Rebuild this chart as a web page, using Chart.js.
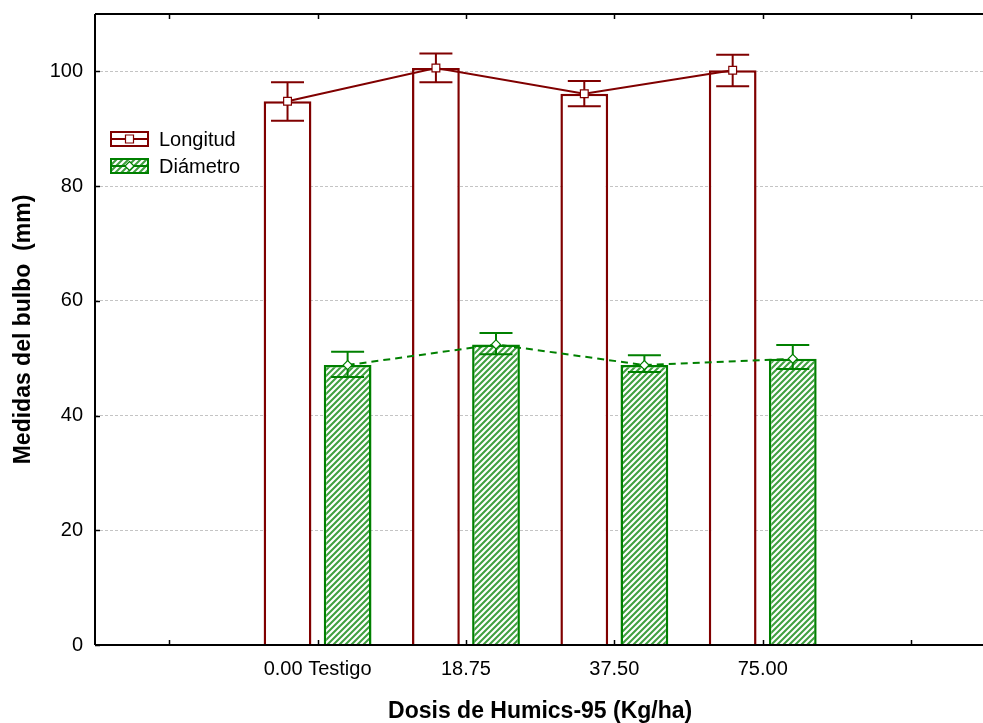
<!DOCTYPE html>
<html>
<head>
<meta charset="utf-8">
<script src="https://cdn.jsdelivr.net/npm/chart.js@4.4.1/dist/chart.umd.min.js"></script>
<style>
html, body { margin: 0; padding: 0; background: #fff; overflow: hidden; }
#wrap { width: 992px; height: 723px; }
</style>
</head>
<body>
<div id="wrap"><canvas id="grafico" width="992" height="723"></canvas></div>
<script>
// datos
const categorias = ['0.00 Testigo', '18.75', '37.50', '75.00'];
const longitud = [94.8, 100.6, 96.1, 100.2];
const longitudMin = [91.4, 98.1, 93.9, 97.4];
const longitudMax = [98.1, 103.1, 98.3, 102.9];
const diametro = [48.8, 52.4, 48.8, 49.9];
const diametroMin = [46.7, 50.7, 47.6, 48.1];
const diametroMax = [51.1, 54.4, 50.5, 52.3];
const yTicks = [0, 20, 40, 60, 80, 100];

const ROJO = '#800000';
const VERDE = '#008000';
const fuente = "'Liberation Sans', Arial, sans-serif";
const catPct = 0.81;
const barPct = 0.795;
const desplaz = catPct / 4; // centro de cada barra dentro de la categoria

var ctx = document.getElementById('grafico').getContext('2d');

// relleno rayado para Diametro
function rayado() {
    var c = document.createElement('canvas');
    c.width = 6; c.height = 6;
    var g = c.getContext('2d');
    g.fillStyle = '#fff';
    g.fillRect(0, 0, 6, 6);
    g.strokeStyle = '#40a040';
    g.lineWidth = 2.1;
    g.beginPath();
    g.moveTo(-1, 7); g.lineTo(7, -1);
    g.moveTo(-4, 4); g.lineTo(4, -4);
    g.moveTo(2, 10); g.lineTo(10, 2);
    g.stroke();
    return ctx.createPattern(c, 'repeat');
}
const patron = rayado();

function puntos(vals, dx) {
    return vals.map((v, i) => ({ x: i + 1 + dx, y: v }));
}

// barras de error, dibujadas justo despues de cada serie de barras
const barrasError = {
    id: 'barrasError',
    afterDatasetDraw(chart, args) {
        const ds = chart.data.datasets[args.index];
        if (!ds.errMin) return;
        const c = chart.ctx, y = chart.scales.y;
        c.save();
        c.strokeStyle = ds.borderColor;
        c.lineWidth = 2;
        args.meta.data.forEach((bar, i) => {
            const yl = y.getPixelForValue(ds.errMin[i]);
            const yh = y.getPixelForValue(ds.errMax[i]);
            c.beginPath();
            c.moveTo(bar.x, yl); c.lineTo(bar.x, yh);
            c.moveTo(bar.x - 16.5, yl); c.lineTo(bar.x + 16.5, yl);
            c.moveTo(bar.x - 16.5, yh); c.lineTo(bar.x + 16.5, yh);
            c.stroke();
        });
        c.restore();
    }
};

// marco y marcas de los ejes hacia adentro
const marco = {
    id: 'marco',
    afterDraw(chart) {
        const c = chart.ctx, a = chart.chartArea;
        const sx = chart.scales.x, sy = chart.scales.y;
        c.save();
        c.strokeStyle = '#000';
        c.lineWidth = 2;
        c.beginPath();
        c.moveTo(a.left, a.top); c.lineTo(a.right, a.top);
        c.moveTo(a.left, a.top); c.lineTo(a.left, a.bottom);
        c.moveTo(a.left, a.bottom); c.lineTo(a.right, a.bottom);
        c.stroke();
        c.lineWidth = 1.5;
        c.beginPath();
        sx.ticks.forEach(t => {
            const px = Math.round(sx.getPixelForValue(t.value)) + 0.5;
            c.moveTo(px, a.bottom); c.lineTo(px, a.bottom - 5);
            c.moveTo(px, a.top); c.lineTo(px, a.top + 5);
        });
        sy.ticks.forEach(t => {
            const py = Math.round(sy.getPixelForValue(t.value)) + 0.5;
            c.moveTo(a.left, py); c.lineTo(a.left + 5, py);
        });
        c.stroke();
        c.restore();
    }
};

// leyenda dentro del area
const leyenda = {
    id: 'leyenda',
    afterDraw(chart) {
        const c = chart.ctx;
        const items = chart.data.datasets.filter(d => d.type === 'line');
        c.save();
        items.forEach((d, k) => {
            const x0 = 111, w = 37, h = 14;
            const y0 = 132 + k * 27;
            const cy = y0 + h / 2;
            c.fillStyle = d.cajaFondo;
            c.fillRect(x0, y0, w, h);
            c.strokeStyle = d.borderColor;
            c.lineWidth = 2;
            c.strokeRect(x0, y0, w, h);
            c.beginPath();
            c.moveTo(x0, cy); c.lineTo(x0 + w, cy);
            c.stroke();
            const mx = x0 + w / 2;
            c.fillStyle = '#fff';
            c.lineWidth = 1.2;
            c.beginPath();
            if (d.pointStyle === 'rect') {
                c.rect(mx - 4, cy - 4, 8, 8);
            } else {
                c.moveTo(mx, cy - 4.5); c.lineTo(mx + 4.5, cy);
                c.lineTo(mx, cy + 4.5); c.lineTo(mx - 4.5, cy); c.closePath();
            }
            c.fill(); c.stroke();
            c.fillStyle = '#000';
            c.font = '20px ' + fuente;
            c.textBaseline = 'middle';
            c.fillText(d.label, 159, cy + 1);
        });
        c.restore();
    }
};

var myChart = new Chart(ctx, {
    type: 'bar',
    data: {
        datasets: [{
            type: 'line',
            label: 'Longitud',
            data: puntos(longitud, -desplaz),
            borderColor: ROJO,
            borderWidth: 2,
            pointStyle: 'rect',
            pointRadius: 5.5,
            pointBorderWidth: 1.2,
            pointBackgroundColor: '#fff',
            pointBorderColor: ROJO,
            cajaFondo: '#fff',
            order: 1
        }, {
            type: 'line',
            label: 'Diámetro',
            data: puntos(diametro, desplaz),
            borderColor: VERDE,
            borderWidth: 2,
            borderDash: [7, 5],
            pointStyle: 'rectRot',
            pointRadius: 4.5,
            pointBorderWidth: 1.2,
            pointBackgroundColor: '#fff',
            pointBorderColor: VERDE,
            cajaFondo: patron,
            order: 1
        }, {
            label: 'Longitud barras',
            data: puntos(longitud, 0),
            backgroundColor: '#fff',
            borderColor: ROJO,
            borderWidth: 2.5,
            errMin: longitudMin,
            errMax: longitudMax,
            order: 2
        }, {
            label: 'Diámetro barras',
            data: puntos(diametro, 0),
            backgroundColor: patron,
            borderColor: VERDE,
            borderWidth: 2.5,
            errMin: diametroMin,
            errMax: diametroMax,
            order: 2
        }]
    },
    options: {
        responsive: false,
        animation: false,
        devicePixelRatio: 1,
        categoryPercentage: catPct,
        barPercentage: barPct,
        layout: { padding: { top: 14, left: 0, right: 0, bottom: 0 } },
        plugins: {
            legend: { display: false },
            tooltip: { enabled: false }
        },
        scales: {
            x: {
                type: 'linear',
                min: -0.5,
                max: 5.5,
                offset: false,
                grid: { display: false },
                border: { display: false },
                afterBuildTicks: s => { s.ticks = [0, 1, 2, 3, 4, 5].map(v => ({ value: v })); },
                afterFit: s => { s.height = 78; s.paddingLeft = 0; s.paddingRight = 0; },
                ticks: {
                    autoSkip: false,
                    maxRotation: 0,
                    padding: 4,
                    color: '#000',
                    font: { family: fuente, size: 20 },
                    callback: v => categorias[v - 1] || ''
                },
                title: {
                    display: true,
                    text: 'Dosis de Humics-95 (Kg/ha)',
                    color: '#000',
                    padding: 0,
                    font: { family: fuente, size: 23, weight: 'bold', lineHeight: 1 }
                }
            },
            y: {
                min: 0,
                max: 110,
                afterBuildTicks: s => { s.ticks = yTicks.map(v => ({ value: v })); },
                afterFit: s => { s.width = 95; s.paddingTop = 0; s.paddingBottom = 0; },
                grid: {
                    drawTicks: false,
                    lineWidth: 1,
                    color: c => (c.tick && c.tick.value === 0) ? 'rgba(0,0,0,0)' : '#c4c4c4'
                },
                border: { display: false, dash: [3, 2] },
                ticks: {
                    padding: 12,
                    color: '#000',
                    font: { family: fuente, size: 20 }
                },
                title: {
                    display: true,
                    text: 'Medidas del bulbo  (mm)',
                    color: '#000',
                    padding: { top: 12, bottom: 0 },
                    font: { family: fuente, size: 23, weight: 'bold', lineHeight: 1 }
                }
            }
        }
    },
    plugins: [barrasError, marco, leyenda]
});
</script>
</body>
</html>
